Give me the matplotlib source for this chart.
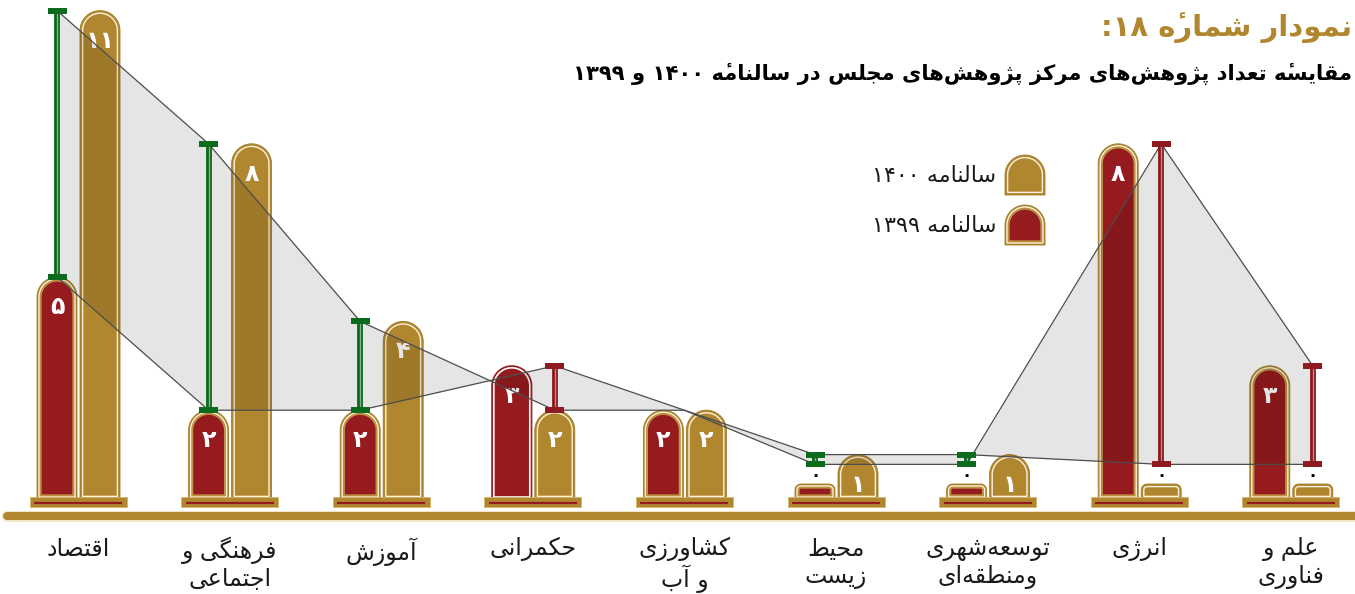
import re
import numpy as np
import matplotlib
matplotlib.use("Agg")
import matplotlib.pyplot as plt
from matplotlib.patches import Polygon

# ---- data -------------------------------------------------------------
categories = ["اقتصاد", "فرهنگی و\nاجتماعی", "آموزش", "حکمرانی", "کشاورزی\nو آب",
              "محیط\nزیست", "توسعه‌شهری\nومنطقه‌ای", "انرژی", "علم و\nفناوری"]
v1399 = [5, 2, 2, 3, 2, 0, 0, 8, 3]
v1400 = [11, 8, 4, 2, 2, 1, 1, 0, 0]
legend_labels = ["سالنامه ۱۴۰۰", "سالنامه ۱۳۹۹"]
title = "نمودار شماره\u0654 ۱۸:"
subtitle = "مقایسه\u0654 تعداد پژوهش‌های مرکز پژوهش‌های مجلس در سالنامه\u0654 ۱۴۰۰ و ۱۳۹۹"

GOLD = "#b0872f"
RED = "#961b1f"
GREEN = "#0c6a1c"
IRED = "#8e1a1f"
CREAM = "#f3e6c6"

# ---- minimal persian shaping (matplotlib has no complex text layout) ----
# forms: isolated, final, initial, medial
AR_FORMS = {
    "\u0622": "\uFE81\uFE82", "\u0627": "\uFE8D\uFE8E",
    "\u0628": "\uFE8F\uFE90\uFE91\uFE92", "\u067E": "\uFB56\uFB57\uFB58\uFB59",
    "\u062A": "\uFE95\uFE96\uFE97\uFE98", "\u062C": "\uFE9D\uFE9E\uFE9F\uFEA0",
    "\u062D": "\uFEA1\uFEA2\uFEA3\uFEA4", "\u062F": "\uFEA9\uFEAA",
    "\u0631": "\uFEAD\uFEAE", "\u0632": "\uFEAF\uFEB0", "\u0698": "\uFB8A\uFB8B",
    "\u0633": "\uFEB1\uFEB2\uFEB3\uFEB4", "\u0634": "\uFEB5\uFEB6\uFEB7\uFEB8",
    "\u0635": "\uFEB9\uFEBA\uFEBB\uFEBC", "\u0637": "\uFEC1\uFEC2\uFEC3\uFEC4",
    "\u0639": "\uFEC9\uFECA\uFECB\uFECC", "\u0641": "\uFED1\uFED2\uFED3\uFED4",
    "\u0642": "\uFED5\uFED6\uFED7\uFED8", "\u06A9": "\uFB8E\uFB8F\uFB90\uFB91",
    "\u06AF": "\uFB92\uFB93\uFB94\uFB95", "\u0644": "\uFEDD\uFEDE\uFEDF\uFEE0",
    "\u0645": "\uFEE1\uFEE2\uFEE3\uFEE4", "\u0646": "\uFEE5\uFEE6\uFEE7\uFEE8",
    "\u0647": "\uFEE9\uFEEA\uFEEB\uFEEC",
    "\u0648": "\uFEED\uFEEE", "\u06CC": "\uFBFC\uFBFD\uFBFE\uFBFF",
}
MARKS = "\u0654"


def shape_line(line):
    out = []
    for i, ch in enumerate(line):
        forms = AR_FORMS.get(ch)
        if forms is None:
            if ch != "\u200c":
                out.append(ch)
            continue
        prev = line[i - 1] if i > 0 else ""
        nxt = line[i + 1] if i + 1 < len(line) else ""
        jp = len(AR_FORMS.get(prev, "")) == 4
        jn = len(forms) == 4 and nxt in AR_FORMS
        if jp and jn:
            out.append(forms[3])
        elif jp:
            out.append(forms[1])
        elif jn:
            out.append(forms[2])
        else:
            out.append(forms[0])
    # visual order: reverse, keep digit runs and base+mark pairs intact
    tokens = re.findall(r"[0-9\u06F0-\u06F9]+|.[" + MARKS + "]?", "".join(out))
    return "".join(reversed(tokens))


def fa(s):
    return "\n".join(shape_line(l) for l in str(s).split("\n"))


def fa_num(n):
    return str(n).translate(str.maketrans("0123456789", "۰۱۲۳۴۵۶۷۸۹"))


# ---- layout (pixel based helpers) -------------------------------------
W, H = 1355, 594
STEP, X0PX, ZPY, UNIT = 151.6, 78, 499, 44.4
RED_OFF, GOLD_OFF, BAR_W = -21, 22, 40
ZERO_MARK = 0.78


def dx(p):
    return p / STEP


def dy(p):
    return p / UNIT


def px2x(p):
    return (p - X0PX) / STEP


def py2y(p):
    return (ZPY - p) / UNIT


fig = plt.figure(figsize=(W / 100, H / 100), dpi=100)
ax = fig.add_axes([0, 0, 1, 1])
ax.set_xlim(px2x(0), px2x(W))
ax.set_ylim(py2y(H), py2y(0))
ax.axis("off")


def rounded(xc, y0, y1, w, r, inset=0.0, **kw):
    w = w - 2 * inset
    r = max(r - inset, 0.5)
    y0 = y0 + dy(inset)
    y1 = y1 - dy(inset)
    hw, rx, ry = dx(w / 2), dx(r), dy(r)
    a = np.linspace(0, np.pi / 2, 20)
    cy = y1 - ry
    right = np.column_stack([xc + hw - rx + rx * np.cos(a), cy + ry * np.sin(a)])
    left = np.column_stack([xc - hw + rx - rx * np.sin(a), cy + ry * np.cos(a)])
    verts = np.vstack([[xc - hw, y0], [xc + hw, y0], right, left])
    ax.add_patch(Polygon(verts, closed=True, **kw))


def gold_bar(xc, top, r, y0=0.0, z=2):
    rounded(xc, y0, top, BAR_W, r, fc=GOLD, ec="#a27b27", lw=0.6, zorder=z)
    rounded(xc, y0, top, BAR_W, r, inset=2.6, fc="none", ec="#fbf1dc", lw=1.0, zorder=z)


def red_bar(xc, top, r, y0=0.0, z=2, plain=False):
    if plain:
        rounded(xc, y0, top, BAR_W, r, fc=RED, ec=RED, lw=0.8, zorder=z)
        rounded(xc, y0, top, BAR_W, r, inset=2.0, fc="none", ec="white", lw=1.2, zorder=z)
        return
    rounded(xc, y0, top, BAR_W, r, fc=GOLD, ec="#a27b27", lw=0.6, zorder=z)
    rounded(xc, y0, top, BAR_W, r, inset=2.0, fc="none", ec="#fbf1dc", lw=1.0, zorder=z)
    rounded(xc, y0, top, BAR_W, r, inset=4.0, fc=RED, ec="#c0954a", lw=0.9, zorder=z)


# bars
for i, (a, b) in enumerate(zip(v1399, v1400)):
    xr, xg = i + dx(RED_OFF), i + dx(GOLD_OFF)
    if a > 0:
        red_bar(xr, a, BAR_W / 2, plain=(i == 3))
        ax.text(xr, a - dy(30), fa_num(a), color="white", fontsize=17,
                fontweight="bold", ha="center", va="center", zorder=3)
    else:
        red_bar(xr, dy(15), 6)
    if b > 0:
        gold_bar(xg, b, BAR_W / 2)
        ax.text(xg, b - dy(30), fa_num(b), color="white", fontsize=17,
                fontweight="bold", ha="center", va="center", zorder=3)
    else:
        gold_bar(xg, dy(15), 6)

    # pedestal
    ax.add_patch(plt.Rectangle((i - dx(48.5), dy(-8)), dx(97), dy(10),
                               fc=GOLD, ec="#d6b56a", lw=0.6, zorder=4))
    ax.plot([i - dx(44), i + dx(44)], [dy(-3.5)] * 2, color=RED, lw=1.6,
            solid_capstyle="butt", zorder=5)

    ax.text(i, py2y(537), fa(categories[i]), fontsize=17, color="#1a1a1a",
            ha="center", va="top", linespacing=1.15)

# long floor bar
ax.plot([px2x(7), px2x(W + 20)], [py2y(515.5)] * 2, color=CREAM, lw=11 * 0.72,
        solid_capstyle="round", zorder=4)
ax.plot([px2x(7), px2x(W + 20)], [py2y(515.5)] * 2, color=GOLD, lw=8 * 0.72,
        solid_capstyle="round", zorder=5)

# change band between 1399 and 1400
xs, y_new, y_old = [], [], []
for i, (a, b) in enumerate(zip(v1399, v1400)):
    off = RED_OFF if b > a else GOLD_OFF if b < a else 0
    xs.append(i + dx(off))
    y_new.append(b if b else ZERO_MARK)
    y_old.append(a if a else ZERO_MARK)

ax.fill_between(xs, y_new, y_old, color="black", alpha=0.1, lw=0, zorder=6)
ax.plot(xs, y_new, color="#4d4d4d", lw=0.9, zorder=7)
ax.plot(xs, y_old, color="#4d4d4d", lw=0.9, zorder=7)

# change markers
for x, a, b, n, o in zip(xs, y_new, y_old, v1400, v1399):
    if n == o:
        continue
    col = GREEN if n > o else IRED
    ax.plot([x, x], [a, b], color=col, lw=4.2, solid_capstyle="butt", zorder=8)
    ax.plot([x, x], [a, b], color="white", lw=0.9, alpha=0.5, zorder=9)
    for y in (a, b):
        ax.plot([x - dx(9.5), x + dx(9.5)], [y, y], color=col, lw=4.3,
                solid_capstyle="butt", zorder=9)
    for y, v in ((a, n), (b, o)):
        if v == 0:
            ax.text(x, y - dy(11), fa_num(0), fontsize=12, fontweight="bold",
                    color="black", ha="center", va="center", zorder=9)

# legend
for k, (lab, fn) in enumerate(zip(legend_labels, (gold_bar, red_bar))):
    top_py = 155 + k * 50
    fn(px2x(1025), py2y(top_py), 20, y0=py2y(top_py + 40), z=10)
    ax.text(px2x(996), py2y(top_py + 21), fa(lab), fontsize=16, color="#1a1a1a",
            ha="right", va="center", zorder=10)

# titles
fig.text(1352 / W, 1 - 28 / H, fa(title), fontsize=21, fontweight="bold",
         color=GOLD, ha="right", va="center")
fig.text(1352 / W, 1 - 74 / H, fa(subtitle), fontsize=15.2, fontweight="bold",
         color="black", ha="right", va="center")

fig.savefig("out.png", dpi=100)
